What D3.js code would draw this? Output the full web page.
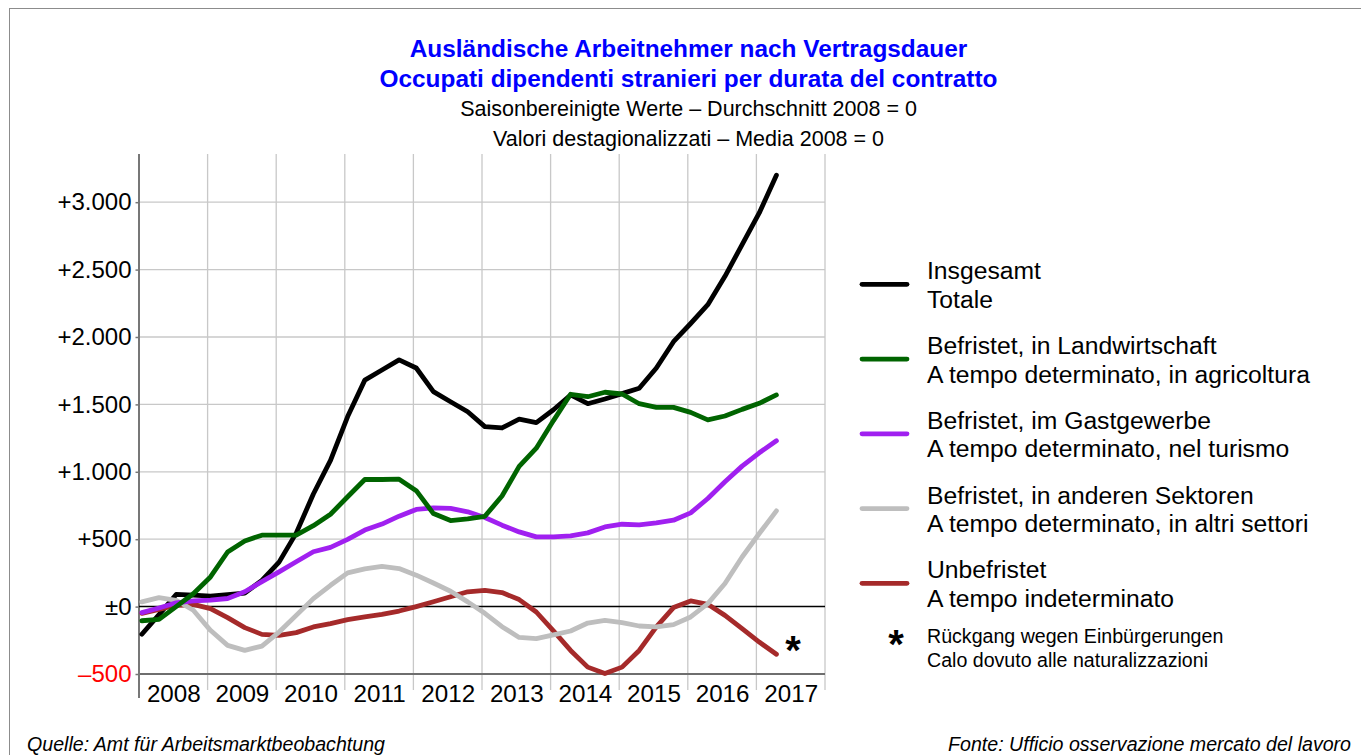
<!DOCTYPE html>
<html>
<head>
<meta charset="utf-8">
<script src="https://cdn.jsdelivr.net/npm/d3@7"></script>
<style>
  body { margin: 0; background: #fff; }
  svg { display: block; font-family: "Liberation Sans", Arial, Helvetica, sans-serif; }
</style>
</head>
<body>
<svg id="chart" width="1361" height="755"></svg>
<script>
(function(){
    "use strict";

    // quarterly observations, 2008 Q1 - 2017 Q2
    var periods = [
        "2008-1","2008-2","2008-3","2008-4","2009-1","2009-2","2009-3","2009-4",
        "2010-1","2010-2","2010-3","2010-4","2011-1","2011-2","2011-3","2011-4",
        "2012-1","2012-2","2012-3","2012-4","2013-1","2013-2","2013-3","2013-4",
        "2014-1","2014-2","2014-3","2014-4","2015-1","2015-2","2015-3","2015-4",
        "2016-1","2016-2","2016-3","2016-4","2017-1","2017-2"
    ];

    var insgesamt = [-205,-60,90,85,78,88,100,195,330,545,835,1085,1410,1680,1755,1830,
        1770,1595,1520,1445,1335,1325,1390,1365,1460,1570,1505,1540,1580,1620,1770,1965,
        2100,2240,2450,2685,2920,3200];
    var landwirtschaft = [-105,-95,0,95,220,405,487,530,530,530,600,685,815,943,943,945,
        860,690,638,650,670,820,1040,1175,1380,1575,1557,1590,1577,1505,1478,1478,
        1441,1385,1414,1463,1508,1570];
    var gastgewerbe = [-45,-10,28,43,48,60,110,185,258,333,407,439,499,568,612,671,
        721,733,728,703,661,604,554,517,517,525,547,591,611,606,621,641,
        695,802,926,1042,1141,1230];
    var andereSektoren = [35,67,47,-27,-176,-288,-325,-293,-189,-65,59,158,250,280,299,282,
        233,175,114,35,-50,-149,-229,-237,-210,-181,-122,-102,-119,-144,-151,-134,
        -77,22,171,368,542,710];
    var unbefristet = [-50,-21,10,17,-15,-82,-156,-206,-213,-193,-151,-126,-97,-77,-57,-33,
        0,36,73,110,121,104,52,-40,-180,-325,-449,-497,-449,-325,-151,-7,
        42,17,-65,-164,-263,-354];

    var years = [2008,2009,2010,2011,2012,2013,2014,2015,2016,2017];
    var yTicks = [-500,0,500,1000,1500,2000,2500,3000];
    var yTickLabels = ["\u2013500","\u00b10","+500","+1.000","+1.500","+2.000","+2.500","+3.000"];

    var series = [
        {de: "Insgesamt", it: "Totale", color: "#000000", values: insgesamt},
        {de: "Befristet, in Landwirtschaft", it: "A tempo determinato, in agricoltura", color: "#006400", values: landwirtschaft},
        {de: "Befristet, im Gastgewerbe", it: "A tempo determinato, nel turismo", color: "#a020f0", values: gastgewerbe},
        {de: "Befristet, in anderen Sektoren", it: "A tempo determinato, in altri settori", color: "#bebebe", values: andereSektoren},
        {de: "Unbefristet", it: "A tempo indeterminato", color: "#a52a2a", values: unbefristet}
    ];
    // drawing order (last on top)
    var drawOrder = [0, 4, 3, 2, 1];

    var svg = d3.select("#chart");

    var plotLeft = 139, plotRight = 825, plotTop = 154, plotBottom = 674;

    var x = d3.scaleLinear().domain([2008, 2018]).range([plotLeft, plotRight]);
    var y = d3.scaleLinear().domain([-500, 3350]).range([plotBottom, 155]);

    function periodX(p){
        var yr = +p.slice(0, 4), q = +p.slice(5);
        return x(yr + (q - 1) / 4 + 1 / 24);
    }

    // outer frame
    svg.append("rect")
        .attr("x", 9.5).attr("y", 8.5)
        .attr("width", 1400).attr("height", 800)
        .attr("fill", "none")
        .attr("stroke", "#8c8c8c")
        .attr("stroke-width", 1);

    // titles
    var titles = [
        {text: "Ausl\u00e4ndische Arbeitnehmer nach Vertragsdauer", y: 57, size: 24.4, weight: "bold", color: "#0000ff"},
        {text: "Occupati dipendenti stranieri per durata del contratto", y: 87, size: 24.4, weight: "bold", color: "#0000ff"},
        {text: "Saisonbereinigte Werte \u2013 Durchschnitt 2008 = 0", y: 116, size: 21.5, weight: "normal", color: "#000"},
        {text: "Valori destagionalizzati \u2013 Media 2008 = 0", y: 146, size: 21.5, weight: "normal", color: "#000"}
    ];
    svg.selectAll("text.title")
        .data(titles)
        .enter().append("text")
        .attr("class", "title")
        .attr("x", 688.5)
        .attr("y", function(d){ return d.y; })
        .attr("text-anchor", "middle")
        .attr("font-size", function(d){ return d.size; })
        .attr("font-weight", function(d){ return d.weight; })
        .attr("fill", function(d){ return d.color; })
        .text(function(d){ return d.text; });

    // horizontal grid
    svg.append("g")
        .selectAll("line")
        .data(yTicks.filter(function(v){ return v > 0; }))
        .enter().append("line")
        .attr("x1", plotLeft).attr("x2", plotRight)
        .attr("y1", function(d){ return y(d); })
        .attr("y2", function(d){ return y(d); })
        .attr("stroke", "#c8c8c8")
        .attr("stroke-width", 1.3);

    // vertical grid (year boundaries), reaching down between the year labels
    svg.append("g")
        .selectAll("line")
        .data(years.map(function(yr){ return yr + 1; }))
        .enter().append("line")
        .attr("x1", function(d){ return x(d); })
        .attr("x2", function(d){ return x(d); })
        .attr("y1", plotTop)
        .attr("y2", 690)
        .attr("stroke", "#c8c8c8")
        .attr("stroke-width", 1.3);

    // bottom (-500) line and left axis line
    svg.append("line")
        .attr("x1", plotLeft).attr("x2", plotRight)
        .attr("y1", y(-500)).attr("y2", y(-500))
        .attr("stroke", "#6e6e6e")
        .attr("stroke-width", 2);
    svg.append("line")
        .attr("x1", plotLeft).attr("x2", plotLeft)
        .attr("y1", plotTop).attr("y2", 698)
        .attr("stroke", "#777")
        .attr("stroke-width", 2);

    // zero line
    svg.append("line")
        .attr("x1", plotLeft).attr("x2", plotRight)
        .attr("y1", y(0)).attr("y2", y(0))
        .attr("stroke", "#000")
        .attr("stroke-width", 1.5);

    // y axis
    var yAxis = d3.axisLeft(y)
        .tickValues(yTicks)
        .tickSize(3.5)
        .tickPadding(4)
        .tickFormat(function(d){ return yTickLabels[yTicks.indexOf(d)]; });

    var gy = svg.append("g")
        .attr("transform", "translate(" + plotLeft + ",0)")
        .call(yAxis);
    gy.select(".domain").remove();
    gy.selectAll(".tick line").attr("stroke", "#777").attr("stroke-width", 1.5);
    gy.selectAll(".tick text")
        .attr("font-size", 24)
        .attr("font-family", "Liberation Sans, Arial, sans-serif")
        .attr("fill", function(d){ return d < 0 ? "#ff0000" : "#000"; });

    // x axis: year labels centred in each year band
    var xAxis = d3.axisBottom(x)
        .tickValues(years.map(function(yr){ return yr + 0.5; }))
        .tickSize(0)
        .tickPadding(11)
        .tickFormat(function(d){ return String(Math.floor(d)); });

    var gx = svg.append("g")
        .attr("transform", "translate(0," + plotBottom + ")")
        .call(xAxis);
    gx.select(".domain").remove();
    gx.selectAll(".tick text")
        .attr("font-size", 24.2)
        .attr("font-family", "Liberation Sans, Arial, sans-serif")
        .attr("fill", "#000");

    // lines
    var line = d3.line()
        .x(function(d, i){ return periodX(periods[i]); })
        .y(function(d){ return y(d); });

    svg.append("g")
        .selectAll("path")
        .data(drawOrder.map(function(k){ return series[k]; }))
        .enter().append("path")
        .attr("d", function(d){ return line(d.values); })
        .attr("fill", "none")
        .attr("stroke", function(d){ return d.color; })
        .attr("stroke-width", 4.8)
        .attr("stroke-linejoin", "round")
        .attr("stroke-linecap", "round");

    // asterisk next to the end of "Unbefristet"
    svg.append("text")
        .attr("x", 793)
        .attr("y", 664)
        .attr("text-anchor", "middle")
        .attr("font-size", 40)
        .attr("font-weight", "bold")
        .text("*");

    // legend
    var legendTop = 284.3, legendStep = 74.75;
    var legend = svg.append("g")
        .selectAll("g")
        .data(series)
        .enter().append("g")
        .attr("transform", function(d, i){ return "translate(0," + (legendTop + i * legendStep) + ")"; });

    legend.append("line")
        .attr("x1", 862).attr("x2", 907)
        .attr("y1", 0).attr("y2", 0)
        .attr("stroke", function(d){ return d.color; })
        .attr("stroke-width", 4.8)
        .attr("stroke-linecap", "round");

    legend.append("text")
        .attr("x", 927)
        .attr("y", -5)
        .attr("font-size", 24.7)
        .text(function(d){ return d.de; });

    legend.append("text")
        .attr("x", 927)
        .attr("y", 23.5)
        .attr("font-size", 24.7)
        .text(function(d){ return d.it; });

    // footnote for the asterisk
    svg.append("text")
        .attr("x", 896)
        .attr("y", 658)
        .attr("text-anchor", "middle")
        .attr("font-size", 40)
        .attr("font-weight", "bold")
        .text("*");
    svg.append("text")
        .attr("x", 927).attr("y", 643)
        .attr("font-size", 19.6)
        .text("R\u00fcckgang wegen Einb\u00fcrgerungen");
    svg.append("text")
        .attr("x", 927).attr("y", 667)
        .attr("font-size", 19.6)
        .text("Calo dovuto alle naturalizzazioni");

    // sources
    svg.append("text")
        .attr("x", 27).attr("y", 751)
        .attr("font-size", 19.6)
        .attr("font-style", "italic")
        .text("Quelle: Amt f\u00fcr Arbeitsmarktbeobachtung");
    svg.append("text")
        .attr("x", 1351).attr("y", 751)
        .attr("text-anchor", "end")
        .attr("font-size", 19.6)
        .attr("font-style", "italic")
        .text("Fonte: Ufficio osservazione mercato del lavoro");
}());
</script>
</body>
</html>
